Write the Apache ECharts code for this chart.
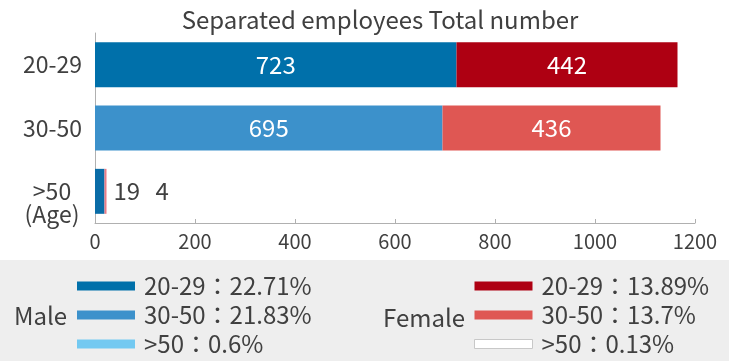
<!DOCTYPE html>
<html>
<head>
<meta charset="utf-8">
<style>
  html, body { margin: 0; padding: 0; background: #ffffff; }
  #chart { width: 740px; height: 361px; }
</style>
<script src="https://cdn.jsdelivr.net/npm/echarts@6/dist/echarts.min.js"></script>
</head>
<body>
<div id="chart"></div>
<script>
// Age groups shown top to bottom
const ageGroups = ['20-29', '30-50', '>50'];
const ageAxisLabels = ['20-29', '30-50', '>50\n(Age)'];

// Separated employees per age group
const maleCounts = [723, 695, 19];
const femaleCounts = [442, 436, 4];

// Share of all separated employees, per group (legend text)
const malePercents = ['22.71%', '21.83%', '0.6%'];
const femalePercents = ['13.89%', '13.7%', '0.13%'];

// Value axis ticks
const xTicks = [0, 200, 400, 600, 800, 1000, 1200];

const FONT = '"Noto Sans CJK TC", "Noto Sans", sans-serif';
const TEXT = '#404040';

// Bar fill per age group, and the swatch drawn in the legend
const maleBarColors = ['#0070aa', '#3c91cb', '#0a6ca7'];
const femaleBarColors = ['#ae0012', '#df5753', '#ea7b85'];
const maleLegendColors = ['#0070aa', '#3c91cb', '#73c9f1'];
const femaleLegendColors = ['#ae0012', '#df5753', '#ffffff'];

const maleNames = ageGroups.map((g, i) => g + '：' + malePercents[i]);
const femaleNames = ageGroups.map((g, i) => g + '：' + femalePercents[i]);

// One series per gender and age group; each holds only its own row,
// so all six stack along the same bar row.
function rowData(values, idx, color, label) {
  return ageGroups.map((g, j) => {
    if (j !== idx) return null;
    const item = { value: values[idx], itemStyle: { color: color } };
    if (label) item.label = label;
    return item;
  });
}

const insideLabel = {
  show: true, position: 'inside', color: '#ffffff',
  fontSize: 24, fontFamily: FONT
};

function outsideLabel(dx) {
  return { show: true, position: 'right', distance: 5, offset: [dx, 0],
           color: TEXT, fontSize: 24, fontFamily: FONT };
}

const series = [];
ageGroups.forEach((g, i) => {
  series.push({
    name: maleNames[i], type: 'bar', stack: 'total',
    barCategoryGap: '29%',
    itemStyle: { color: maleLegendColors[i] },
    label: insideLabel,
    data: rowData(maleCounts, i, maleBarColors[i], i === 2 ? outsideLabel(4) : null)
  });
});
ageGroups.forEach((g, i) => {
  series.push({
    name: femaleNames[i], type: 'bar', stack: 'total',
    barCategoryGap: '29%',
    itemStyle: { color: femaleLegendColors[i] },
    label: insideLabel,
    data: rowData(femaleCounts, i, femaleBarColors[i], i === 2 ? outsideLabel(44) : null)
  });
});

function legendData(names, colors) {
  return names.map((n, i) => {
    const d = { name: n, itemStyle: { color: colors[i] } };
    if (colors[i] === '#ffffff') {
      d.itemStyle.borderColor = '#c8c8c8';
      d.itemStyle.borderWidth = 1;
    }
    return d;
  });
}

const legendCommon = {
  orient: 'vertical', top: 274, padding: 0,
  icon: 'rect', itemWidth: 58, itemHeight: 9, itemGap: 5,
  textStyle: { fontSize: 24, color: TEXT, fontFamily: FONT, padding: [0, 0, 0, 4] }
};

const chart = echarts.init(document.getElementById('chart'), null, { renderer: 'canvas' });
chart.setOption({
  animation: false,
  backgroundColor: '#ffffff',
  textStyle: { fontFamily: FONT },
  title: {
    text: 'Separated employees Total number',
    left: 375, top: 3, textAlign: 'center',
    textStyle: { fontSize: 24, fontWeight: 'normal', color: TEXT, fontFamily: FONT }
  },
  grid: { left: 95, right: 45, top: 33, bottom: 138, containLabel: false },
  xAxis: {
    type: 'value', min: xTicks[0], max: xTicks[xTicks.length - 1],
    interval: xTicks[1] - xTicks[0],
    axisLine: { show: true, lineStyle: { color: '#b0b0b0', width: 1 } },
    axisTick: { show: true, inside: true, length: 4, lineStyle: { color: '#b0b0b0' } },
    splitLine: { show: false },
    axisLabel: { fontSize: 20, color: TEXT, fontFamily: FONT, margin: 8,
                 formatter: function (v) { return String(v); } }
  },
  yAxis: {
    type: 'category', inverse: true,
    data: ageAxisLabels,
    axisLine: { show: true, lineStyle: { color: '#b0b0b0', width: 1 } },
    axisTick: { show: false },
    axisLabel: {
      fontSize: 23, color: TEXT, fontFamily: FONT, margin: 13,
      formatter: function (v) {
        if (v.indexOf('\n') >= 0) {
          const parts = v.split('\n');
          return '{pad|}\n{c|' + parts[0] + '}\n{c|' + parts[1] + '}';
        }
        return v;
      },
      rich: {
        c: { width: 60, align: 'center', fontSize: 23, lineHeight: 23, color: TEXT, fontFamily: FONT },
        pad: { height: 0, lineHeight: 23 }
      }
    }
  },
  legend: [
    Object.assign({}, legendCommon, { left: 77, data: legendData(maleNames, maleLegendColors) }),
    Object.assign({}, legendCommon, { left: 474, data: legendData(femaleNames, femaleLegendColors) })
  ],
  graphic: [
    { type: 'rect', z: -10, shape: { x: 0, y: 260, width: 729, height: 101 },
      style: { fill: '#eeeeee' }, silent: true },
    { type: 'text', x: 14, y: 316, z: 10,
      style: { text: 'Male', fontSize: 24, fill: TEXT, fontFamily: FONT, verticalAlign: 'middle' } },
    { type: 'text', x: 383, y: 318, z: 10,
      style: { text: 'Female', fontSize: 24, fill: TEXT, fontFamily: FONT, verticalAlign: 'middle' } }
  ],
  series: series
});
</script>
</body>
</html>
